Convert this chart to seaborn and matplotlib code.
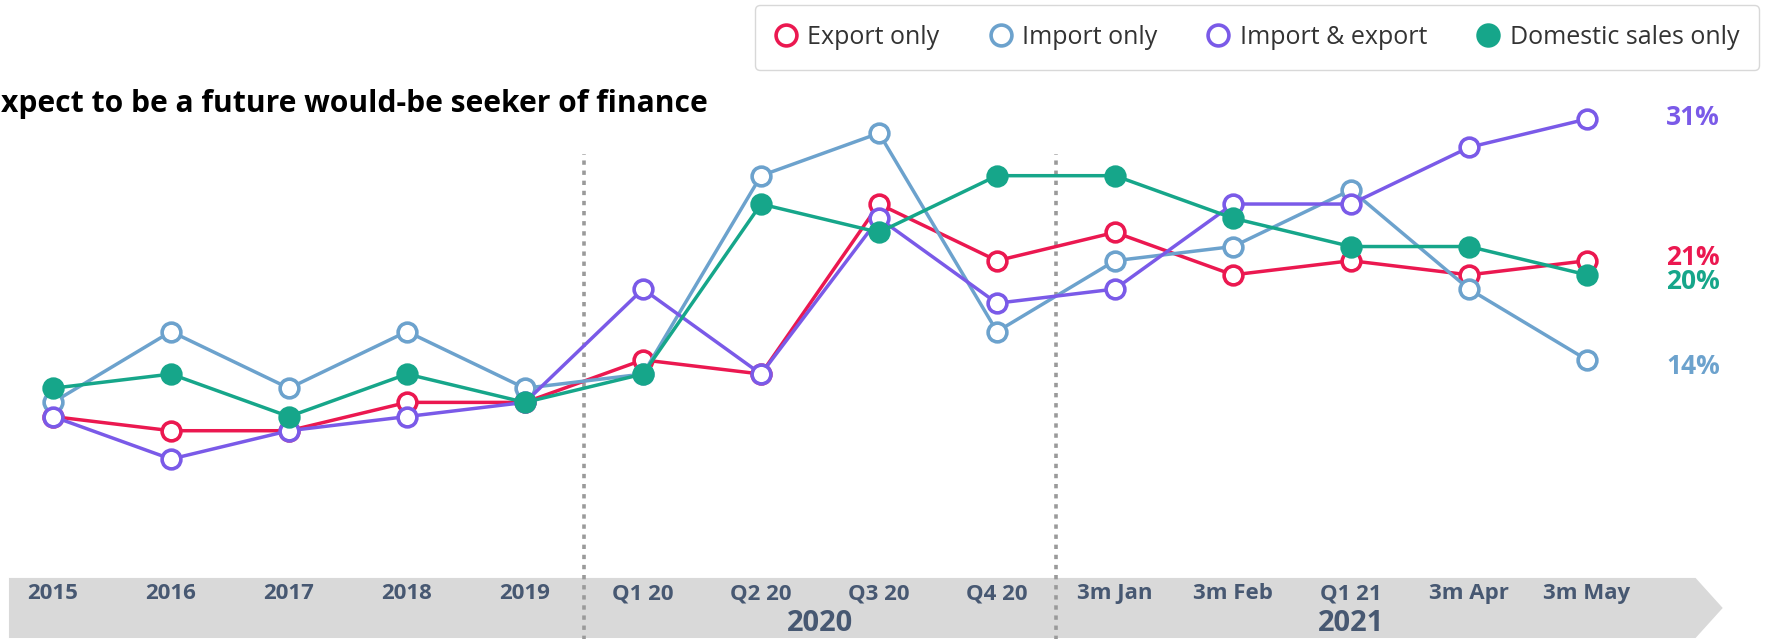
import matplotlib
matplotlib.use("Agg")
import matplotlib.pyplot as plt
import seaborn as sns
from matplotlib.lines import Line2D
from matplotlib.patches import Polygon

sns.set_theme(style="white")
plt.rcParams["font.family"] = ["Open Sans", "DejaVu Sans"]

# Periods along the time axis
periods = ["2015", "2016", "2017", "2018", "2019",
           "Q1 20", "Q2 20", "Q3 20", "Q4 20",
           "3m Jan", "3m Feb", "Q1 21", "3m Apr", "3m May"]
year_groups = ["2020", "2021"]

# Share of SMEs (%) by trading status
export_only = [10, 9, 9, 11, 11, 14, 13, 25, 21, 23, 20, 21, 20, 21]
import_only = [11, 16, 12, 16, 12, 13, 27, 30, 16, 21, 22, 26, 19, 14]
import_export = [10, 7, 9, 10, 11, 19, 13, 24, 18, 19, 25, 25, 29, 31]
domestic_only = [12, 13, 10, 13, 11, 13, 25, 23, 27, 27, 24, 22, 22, 20]

series = [
    ("Export only", export_only, "#EB1850", False),
    ("Import only", import_only, "#6CA2CD", False),
    ("Import & export", import_export, "#7A5AE8", False),
    ("Domestic sales only", domestic_only, "#16A68A", True),
]

fig = plt.figure(figsize=(17.77, 6.39), dpi=100)
ax = fig.add_axes([0, 0, 1, 1])
ax.set_xlim(-0.449, 14.61)
ax.set_ylim(-5.7, 39.4)
ax.axis("off")

xs = list(range(len(periods)))

# Grey timeline arrow holding the period labels
band = Polygon([(-0.373, -1.39), (13.92, -1.39), (14.15, -3.51),
                (13.92, -5.63), (-0.373, -5.63)],
               closed=True, facecolor="#D9D9D9", edgecolor="none", zorder=0)
ax.add_patch(band)

# Dotted separators between annual, quarterly and monthly sections
for xv in (4.5, 8.5):
    ax.plot([xv, xv], [-6, 28.5], color="#9A9A9A", lw=2.6,
            linestyle=(0, (1.2, 1.6)), zorder=1)

handles = []
for name, vals, col, filled in series:
    sns.lineplot(x=xs, y=vals, ax=ax, color=col, lw=2.5, marker="o",
                 markersize=13.5, markeredgewidth=2.6, markeredgecolor=col,
                 markerfacecolor=col if filled else "white", zorder=3)
    handles.append(Line2D([], [], linestyle="none", marker="o", markersize=15,
                          markeredgewidth=2.6, markeredgecolor=col,
                          markerfacecolor=col if filled else "white", label=name))

# Latest-value labels
end_offsets = {"Export only": 0.2, "Import only": -0.5,
               "Import & export": 0.1, "Domestic sales only": -0.5}
for name, vals, col, _ in series:
    ax.text(13.67, vals[-1] + end_offsets[name], f"{vals[-1]}%", color=col,
            fontsize=19, fontweight="bold", ha="left", va="center")

# Period labels on the timeline
for x, lab in zip(xs, periods):
    ax.text(x, -2.52, lab, ha="center", va="center", fontsize=16,
            fontweight="bold", color="#475872")
for xv, lab in zip((6.5, 11.0), year_groups):
    ax.text(xv, -4.64, lab, ha="center", va="center", fontsize=21,
            fontweight="bold", color="#475872")

# Chart heading at the top-left edge
fig.text(1 / 1777, 1 - 104 / 639, "xpect to be a future would-be seeker of finance",
         ha="left", va="center", fontsize=21.6, fontweight="bold", color="black")

leg = ax.legend(handles=handles, ncol=4, loc="upper right",
                bbox_to_anchor=(1759 / 1777, 1 - 5 / 639),
                bbox_transform=fig.transFigure, frameon=True, fancybox=True,
                edgecolor="#D8D8D8", framealpha=1, fontsize=18,
                handlelength=0.9, handletextpad=0.4, columnspacing=2.0,
                borderpad=0.8, borderaxespad=0)
for t in leg.get_texts():
    t.set_color("#333333")

fig.savefig("out.png", dpi=100)
